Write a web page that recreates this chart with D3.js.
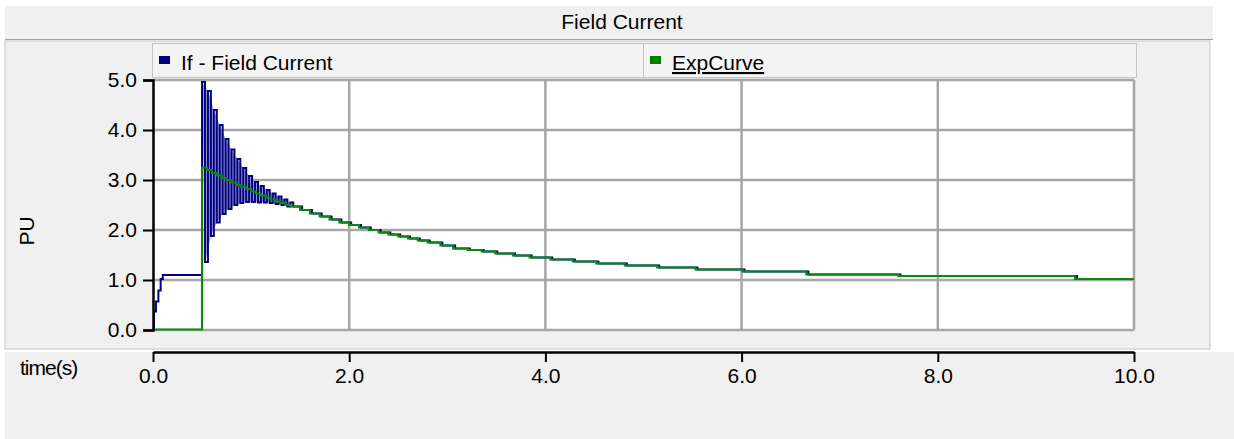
<!DOCTYPE html>
<html>
<head>
<meta charset="utf-8">
<script src="https://cdn.jsdelivr.net/npm/d3@7"></script>
<style>
    body { margin: 0; background: #fff; }
    text { font-family: Arial, "Liberation Sans", sans-serif; fill: #000; }
</style>
</head>
<body>
<script>
// tick labels
const xTicks = [0, 2, 4, 6, 8, 10]
const yTicks = [0, 1, 2, 3, 4, 5]
const seriesNames = ["If - Field Current", "ExpCurve"]

// If - Field Current : initial rise
const ifStartTime = [0, 0.01, 0.03, 0.055, 0.078, 0.10]
const ifStartValue = [0, 0.37, 0.57, 0.79, 1.02, 1.10]
// oscillation peaks / troughs after the step
const ifPeakTime = [0.50, 0.56, 0.62, 0.68, 0.74, 0.80, 0.86, 0.92, 0.98, 1.04, 1.10, 1.16, 1.22, 1.28, 1.34, 1.40]
const ifPeakValue = [4.96, 4.78, 4.40, 4.10, 3.82, 3.61, 3.42, 3.24, 3.08, 2.96, 2.88, 2.80, 2.73, 2.67, 2.61, 2.55]
const ifTroughTime = [0.53, 0.59, 0.65, 0.71, 0.77, 0.83, 0.89, 0.95, 1.01, 1.07, 1.13, 1.19, 1.25, 1.31, 1.37]
const ifTroughValue = [1.36, 1.88, 2.15, 2.32, 2.42, 2.50, 2.54, 2.56, 2.56, 2.55, 2.55, 2.54, 2.52, 2.50, 2.47]
// tail
const ifTailTime = [1.43, 1.52, 1.62, 1.72, 1.82, 1.92, 2.02, 2.12, 2.22, 2.32, 2.42, 2.52, 2.62, 2.72, 2.82,
    2.95, 3.08, 3.23, 3.37, 3.51, 3.69, 3.86, 4.07, 4.30, 4.54, 4.83, 5.16, 5.55, 6.03, 6.68, 7.62, 9.42, 10]
const ifTailValue = [2.47, 2.40, 2.33, 2.27, 2.21, 2.15, 2.10, 2.05, 2.00, 1.95, 1.91, 1.87, 1.83, 1.79, 1.75,
    1.69, 1.63, 1.60, 1.57, 1.53, 1.49, 1.45, 1.41, 1.37, 1.33, 1.29, 1.25, 1.21, 1.17, 1.11, 1.08, 1.02, 1.02]

// ExpCurve
const expTime = [0, 0.5, 0.55, 0.6, 0.65, 0.7, 0.75, 0.8, 0.85, 0.9, 0.95, 1.0, 1.05, 1.1, 1.15, 1.2, 1.25, 1.3, 1.35, 1.4,
    1.5, 1.6, 1.7, 1.8, 1.9, 2.0, 2.1, 2.2, 2.3, 2.4, 2.5, 2.6, 2.7, 2.8,
    2.93, 3.06, 3.21, 3.35, 3.49, 3.67, 3.84, 4.05, 4.28, 4.52, 4.81, 5.14, 5.53, 6.01, 6.66, 7.6, 9.4, 10]
const expValue = [0.01, 3.25, 3.20, 3.14, 3.09, 3.04, 3.00, 2.95, 2.90, 2.86, 2.82, 2.77, 2.73, 2.69, 2.65, 2.61, 2.57, 2.54, 2.50, 2.47,
    2.40, 2.33, 2.27, 2.21, 2.15, 2.10, 2.05, 2.00, 1.95, 1.91, 1.87, 1.83, 1.79, 1.75,
    1.69, 1.63, 1.60, 1.57, 1.53, 1.49, 1.45, 1.41, 1.37, 1.33, 1.29, 1.25, 1.21, 1.17, 1.11, 1.08, 1.02, 1.02]

const svgWidth = 1234
const svgHeight = 439
const plot = {left: 153, right: 1134, top: 80, bottom: 330}
const blue = "#000080"
const green = "#0a8a0a"
const panelGray = "#f0f0f0"

const zip = (ts, vs) => ts.map((t, i) => ({t: t, v: vs[i]}))

const peaks = zip(ifPeakTime, ifPeakValue)
const troughs = zip(ifTroughTime, ifTroughValue)
const ifData = zip(ifStartTime, ifStartValue)
    .concat(peaks, troughs)
    .sort((a, b) => a.t - b.t)
    .concat(zip(ifTailTime, ifTailValue))
const expData = zip(expTime, expValue)

const svg = d3.select("body").append("svg")
    .attr("width", svgWidth)
    .attr("height", svgHeight)

// background panels
svg.append("rect").attr("x", 5).attr("y", 6).attr("width", 1208).attr("height", 33).attr("fill", panelGray)
svg.append("line").attr("x1", 5).attr("x2", 1213).attr("y1", 39.5).attr("y2", 39.5).attr("stroke", "#a0a0a0")
svg.append("rect").attr("x", 5).attr("y", 41).attr("width", 1205).attr("height", 308)
    .attr("fill", panelGray).attr("stroke", "#c8c8c8")
svg.append("rect").attr("x", 5).attr("y", 352).attr("width", 1229).attr("height", 87).attr("fill", panelGray)

svg.append("text")
    .attr("x", 622).attr("y", 29)
    .attr("text-anchor", "middle")
    .style("font-size", "21px")
    .text("Field Current")

// legend
const legendCells = [
    {x: 152, w: 491, color: blue, name: seriesNames[0], underline: false},
    {x: 643, w: 493, color: "#008000", name: seriesNames[1], underline: true}
]
const gLegend = svg.append("g")
legendCells.forEach(c => {
    gLegend.append("rect").attr("x", c.x + 0.5).attr("y", 43.5).attr("width", c.w).attr("height", 34)
        .attr("fill", "#f4f4f4").attr("stroke", "#c4c4c4")
    gLegend.append("rect").attr("x", c.x + 7).attr("y", 56).attr("width", 11).attr("height", 8).attr("fill", c.color)
    gLegend.append("text").attr("x", c.x + 29).attr("y", 70)
        .style("font-size", "21px")
        .style("text-decoration", c.underline ? "underline" : "none")
        .text(c.name)
})

const scaleX = d3.scaleLinear().domain([0, 10]).range([plot.left, plot.right])
const scaleY = d3.scaleLinear().domain([0, 5]).range([plot.bottom, plot.top])

// plot area
svg.append("rect")
    .attr("x", plot.left).attr("y", plot.top)
    .attr("width", plot.right - plot.left).attr("height", plot.bottom - plot.top)
    .attr("fill", "#fff")

const gGrid = svg.append("g").attr("stroke", "#a6a6a6").attr("stroke-width", 2.5)
gGrid.selectAll("line.h")
    .data(yTicks)
    .join("line")
    .attr("class", "h")
    .attr("x1", plot.left).attr("x2", plot.right)
    .attr("y1", d => scaleY(d)).attr("y2", d => scaleY(d))
gGrid.selectAll("line.v")
    .data(xTicks.slice(1))
    .join("line")
    .attr("class", "v")
    .attr("x1", d => scaleX(d)).attr("x2", d => scaleX(d))
    .attr("y1", plot.top).attr("y2", plot.bottom)

// series
const line = d3.line()
    .x(d => scaleX(d.t))
    .y(d => scaleY(d.v))
    .curve(d3.curveStepAfter)

// light band the dense oscillation leaves between its envelopes
const band = d3.line()
    .x(d => scaleX(d.t))
    .y(d => scaleY(d.v))
svg.append("path")
    .datum(peaks.concat(troughs.slice().reverse()))
    .attr("d", d => band(d) + "Z")
    .attr("fill", "#9b9bd2")
    .attr("stroke", "none")

svg.append("path")
    .datum(ifData)
    .attr("d", line)
    .attr("fill", "none")
    .attr("stroke", blue)
    .attr("stroke-width", 2)

svg.append("path")
    .datum(expData)
    .attr("d", line)
    .attr("fill", "none")
    .attr("stroke", green)
    .attr("stroke-width", 2.2)

// y axis
const gY = svg.append("g")
    .attr("transform", `translate(${plot.left}, 0)`)
    .call(d3.axisLeft(scaleY).tickValues(yTicks).tickFormat(d3.format(".1f")).tickSize(10).tickPadding(6))
gY.select(".domain").attr("stroke", "#000").attr("stroke-width", 2.5)
gY.selectAll(".tick line").attr("stroke", "#000").attr("stroke-width", 2)
gY.selectAll(".tick text").style("font-size", "21px").attr("fill", "#000")

svg.append("text")
    .attr("transform", "translate(34, 231) rotate(-90)")
    .attr("text-anchor", "middle")
    .style("font-size", "21px")
    .text("PU")

// x axis
const gX = svg.append("g")
    .attr("transform", "translate(0, 352)")
    .call(d3.axisBottom(scaleX).tickValues(xTicks).tickFormat(d3.format(".1f")).tickSizeInner(10).tickSizeOuter(0).tickPadding(6))
gX.select(".domain").attr("stroke", "#000").attr("stroke-width", 2.5)
gX.selectAll(".tick line").attr("stroke", "#000").attr("stroke-width", 2)
gX.selectAll(".tick text").style("font-size", "21px").attr("fill", "#000")

svg.append("text")
    .attr("x", 20).attr("y", 375)
    .style("font-size", "21px")
    .style("letter-spacing", "-1px")
    .text("time(s)")
</script>
</body>
</html>
